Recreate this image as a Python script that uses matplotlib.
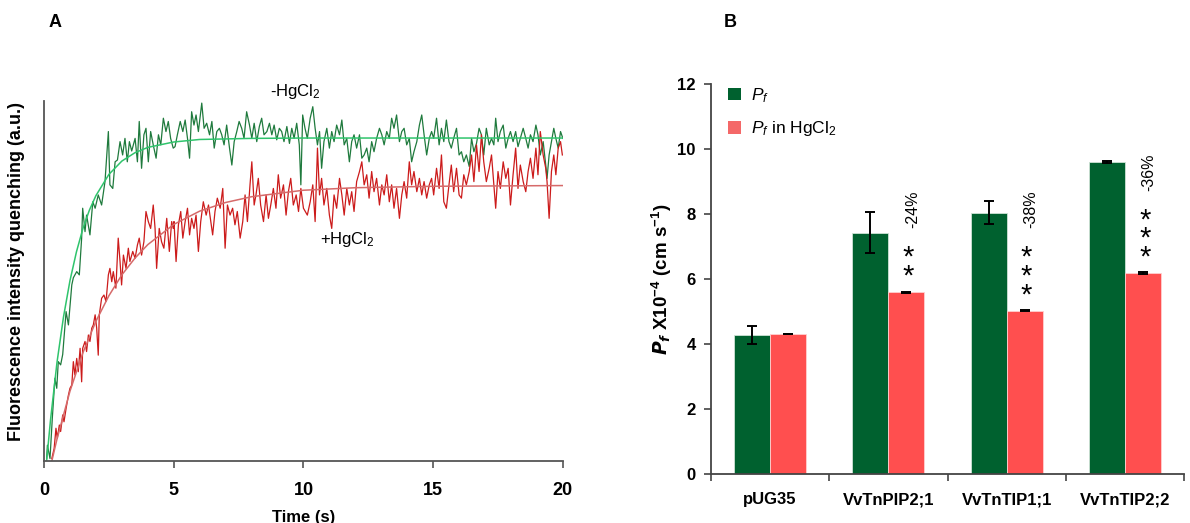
import matplotlib
matplotlib.use("Agg")
import matplotlib.pyplot as plt
from matplotlib.patches import Patch
import numpy as np

plt.rcParams['font.family'] = ['Liberation Sans', 'DejaVu Sans']
plt.rcParams['mathtext.fontset'] = 'custom'
plt.rcParams['mathtext.rm'] = 'Liberation Sans'
plt.rcParams['mathtext.it'] = 'Liberation Sans:italic'
plt.rcParams['mathtext.bf'] = 'Liberation Sans:bold'

# ---- panel A: stopped-flow traces (a.u., 0-100) ----
green_t = [
    0.10, 0.13, 0.23, 0.32, 0.42, 0.49, 0.55, 0.64, 0.72, 0.85, 0.94, 1.07, 1.13, 1.26, 1.36,
    1.45, 1.49, 1.58, 1.64, 1.77, 1.88, 1.97, 2.09, 2.22, 2.35, 2.48, 2.54, 2.65, 2.74, 2.83,
    2.93, 3.03, 3.12, 3.21, 3.29, 3.38, 3.51, 3.60, 3.67, 3.76, 3.85, 3.93, 4.02, 4.11, 4.21,
    4.32, 4.41, 4.50, 4.60, 4.70, 4.79, 4.88, 4.98,
    5.05, 5.14, 5.25, 5.35, 5.44, 5.53, 5.61, 5.69, 5.78, 5.86, 5.95, 6.08, 6.17, 6.27, 6.38,
    6.47, 6.56, 6.66, 6.76, 6.85, 6.94, 7.04, 7.15, 7.24, 7.33, 7.43, 7.52, 7.62, 7.71, 7.81,
    7.92, 8.01, 8.10, 8.20, 8.30, 8.39, 8.48, 8.59, 8.69, 8.78, 8.87, 8.97, 9.07, 9.16, 9.25,
    9.36, 9.46, 9.55, 9.64, 9.74, 9.84, 9.90, 9.97, 10.06,
    10.15, 10.26, 10.36, 10.45, 10.54, 10.62, 10.70, 10.79, 10.90, 11.00, 11.09, 11.18, 11.28, 11.39, 11.48,
    11.57, 11.67, 11.77, 11.86, 11.95, 12.05, 12.16, 12.25, 12.34, 12.44, 12.53, 12.63, 12.72, 12.82, 12.93,
    13.02, 13.11, 13.21, 13.31, 13.40, 13.49, 13.59, 13.70, 13.79, 13.88, 13.98, 14.08, 14.17, 14.26, 14.37,
    14.47, 14.56, 14.65, 14.75, 14.85, 14.94,
    15.02, 15.13, 15.23, 15.32, 15.41, 15.51, 15.61, 15.70, 15.79, 15.90, 16.00, 16.09, 16.18, 16.28, 16.39,
    16.48, 16.57, 16.67, 16.77, 16.86, 16.95, 17.05, 17.16, 17.25, 17.34, 17.41, 17.50, 17.59, 17.70, 17.80,
    17.89, 17.98, 18.08, 18.18, 18.27, 18.36, 18.47, 18.57, 18.66, 18.75, 18.85, 18.96, 19.04, 19.13, 19.24,
    19.34, 19.39, 19.47, 19.56, 19.65, 19.73, 19.82, 19.91, 20.00,
]
green_v = [
    0.7, 4.4, 0.7, 12.0, 23.0, 20.2, 27.6, 26.7, 29.6, 41.5, 37.8, 48.9, 50.9, 52.6, 51.7,
    61.9, 70.2, 63.7, 68.3, 62.8, 72.0, 70.2, 73.9, 71.1, 77.6, 91.5, 76.7, 75.7, 83.1, 83.6,
    88.7, 85.0, 89.6, 83.1, 88.7, 86.1, 89.6, 83.1, 94.3, 81.3, 90.6, 92.4, 83.1, 91.5, 87.8,
    84.1, 90.6, 87.8, 95.2, 91.5, 94.3, 89.6, 86.9,
    87.3, 90.6, 94.3, 91.5, 94.7, 89.6, 84.1, 97.0, 93.3, 96.1, 91.5, 99.4, 92.4, 93.8, 90.6,
    94.3, 86.9, 91.5, 92.4, 90.6, 87.8, 93.3, 86.9, 82.2, 88.7, 91.5, 94.3, 92.4, 89.6, 97.0,
    93.3, 89.6, 93.8, 88.7, 92.9, 95.2, 90.6, 91.5, 93.8, 90.6, 93.3, 89.2, 92.4, 91.5, 88.7,
    92.9, 88.2, 92.4, 89.6, 93.8, 87.8, 76.7, 96.1, 92.4,
    89.6, 95.2, 98.4, 92.4, 87.8, 91.5, 81.3, 88.7, 92.4, 86.9, 91.5, 88.7, 93.3, 90.6, 94.7,
    87.8, 89.6, 83.1, 88.7, 90.6, 86.9, 90.6, 84.1, 85.0, 86.9, 83.1, 88.7, 85.9, 89.6, 92.4,
    90.6, 87.8, 91.5, 89.6, 95.2, 92.4, 96.1, 88.7, 91.5, 92.4, 87.8, 89.6, 83.1, 85.9, 88.7,
    93.3, 96.1, 90.6, 85.0, 89.6, 91.5,
    89.6, 95.2, 87.8, 92.4, 88.7, 94.7, 88.7, 86.9, 89.6, 92.4, 85.0, 85.9, 83.1, 85.0, 81.8,
    89.6, 85.9, 88.2, 92.4, 90.6, 85.0, 92.4, 87.8, 89.6, 87.8, 95.2, 88.7, 91.5, 93.3, 86.9,
    89.6, 91.5, 88.7, 91.5, 87.3, 89.6, 92.4, 89.6, 86.9, 90.6, 88.7, 93.3, 90.6, 85.0, 88.7,
    82.2, 78.5, 85.0, 88.7, 92.4, 89.6, 86.9, 91.5, 89.6,
]
red_t = [
    0.30, 0.39, 0.46, 0.51, 0.59, 0.64, 0.72, 0.77, 0.85, 0.94, 1.00, 1.07, 1.13, 1.19, 1.26,
    1.32, 1.39, 1.45, 1.49, 1.58, 1.64, 1.71, 1.77, 1.84, 1.90, 1.97, 2.03, 2.09, 2.13, 2.22,
    2.31, 2.39, 2.48, 2.54, 2.61, 2.67, 2.77, 2.86, 2.93, 2.99, 3.06, 3.16, 3.25, 3.31, 3.42,
    3.51, 3.60, 3.67, 3.76, 3.85, 3.93, 4.02, 4.11, 4.21, 4.28, 4.34, 4.44, 4.53, 4.62, 4.73,
    4.83, 4.92, 4.98,
    5.01, 5.09, 5.18, 5.27, 5.35, 5.44, 5.53, 5.61, 5.69, 5.78, 5.86, 5.95, 6.04, 6.14, 6.25,
    6.34, 6.43, 6.50, 6.59, 6.68, 6.79, 6.89, 6.98, 7.07, 7.17, 7.27, 7.36, 7.45, 7.56, 7.66,
    7.75, 7.84, 7.94, 8.01, 8.10, 8.17, 8.26, 8.35, 8.46, 8.56, 8.65, 8.74, 8.84, 8.94, 9.03,
    9.12, 9.23, 9.33, 9.42, 9.51, 9.61, 9.72, 9.81, 9.90, 10.00,
    10.15, 10.26, 10.36, 10.45, 10.54, 10.62, 10.70, 10.79, 10.90, 11.00, 11.09, 11.18, 11.28, 11.39, 11.48,
    11.57, 11.67, 11.77, 11.86, 11.95, 12.05, 12.16, 12.25, 12.34, 12.44, 12.53, 12.63, 12.72, 12.82, 12.93,
    13.02, 13.11, 13.21, 13.31, 13.40, 13.49, 13.59, 13.70, 13.79, 13.88, 13.98, 14.08, 14.17, 14.26, 14.37,
    14.47, 14.56, 14.65, 14.75, 14.85, 14.94,
    15.02, 15.13, 15.23, 15.32, 15.41, 15.51, 15.61, 15.70, 15.79, 15.90, 16.00, 16.09, 16.18, 16.28, 16.39,
    16.48, 16.57, 16.67, 16.77, 16.86, 16.95, 17.05, 17.16, 17.25, 17.34, 17.41, 17.50, 17.59, 17.70, 17.80,
    17.89, 17.98, 18.08, 18.18, 18.27, 18.36, 18.47, 18.57, 18.66, 18.75, 18.85, 18.96, 19.04, 19.13, 19.24,
    19.34, 19.39, 19.47, 19.56, 19.65, 19.73, 19.82, 19.91, 19.98,
]
red_v = [
    0.7, 3.5, 9.1, 6.3, 10.0, 8.2, 12.8, 10.9, 14.6, 18.3, 20.2, 21.1, 27.6, 23.9, 28.5,
    24.8, 31.3, 22.0, 31.3, 33.2, 30.4, 35.0, 33.2, 36.9, 37.8, 40.6, 36.9, 29.4, 40.6, 45.2,
    46.1, 44.3, 51.7, 53.5, 49.8, 52.6, 48.0, 61.9, 55.4, 48.9, 57.2, 53.5, 59.1, 55.4, 58.2,
    56.3, 60.0, 61.9, 57.2, 60.9, 69.3, 66.5, 64.6, 71.1, 64.6, 53.5, 64.6, 60.9, 59.1, 67.4,
    58.2, 66.5, 64.6,
    66.5, 55.4, 65.6, 69.3, 61.9, 66.5, 70.2, 62.8, 67.4, 64.6, 68.3, 58.2, 66.5, 72.0, 68.3,
    71.1, 66.5, 62.8, 69.3, 73.0, 70.2, 75.7, 59.1, 71.1, 68.3, 70.2, 65.6, 69.3, 61.9, 66.5,
    73.9, 66.5, 76.7, 83.1, 71.1, 73.9, 78.5, 71.1, 66.5, 73.9, 67.4, 71.1, 75.7, 70.2, 79.5,
    73.0, 76.7, 68.3, 74.8, 78.5, 71.1, 73.9, 69.3, 75.7, 70.2,
    68.3, 72.0, 76.7, 66.5, 86.9, 73.9, 78.5, 71.1, 75.7, 68.3, 64.6, 73.9, 70.2, 78.5, 73.9,
    68.3, 75.7, 71.1, 74.8, 69.3, 77.6, 80.4, 83.1, 76.7, 79.5, 73.0, 80.4, 74.8, 78.5, 71.1,
    76.7, 73.9, 79.5, 72.0, 76.7, 70.2, 75.7, 67.4, 73.9, 77.6, 73.0, 83.1, 76.7, 80.4, 74.8,
    78.5, 73.9, 77.6, 73.0, 76.7, 78.5,
    73.9, 81.3, 75.7, 85.0, 72.0, 70.2, 76.7, 82.2, 74.8, 81.3, 73.9, 73.0, 79.5, 76.7, 80.4,
    85.0, 77.6, 87.8, 80.4, 90.6, 83.1, 77.6, 81.3, 85.0, 76.7, 70.2, 80.4, 75.7, 83.1, 78.5,
    81.3, 71.1, 79.5, 86.9, 75.7, 82.2, 77.6, 74.8, 80.4, 84.1, 78.5, 86.9, 79.5, 91.5, 85.0,
    81.3, 77.6, 67.4, 80.4, 85.0, 79.5, 86.9, 88.7, 85.0,
]
# fitted curves
gfit_t = [0.1, 0.25, 0.5, 0.75, 1.0, 1.25, 1.5, 1.75, 2.0, 2.5, 3.0, 3.5, 4.0, 5.0, 6.0, 8.0, 10.0, 15.0, 20.0]
gfit_v = [0.0, 11.4, 27.4, 40.0, 50.1, 58.1, 64.6, 69.7, 73.7, 79.6, 83.3, 85.6, 87.1, 88.6, 89.3, 89.6, 89.7, 89.7, 89.7]
rfit_t = [0.3, 0.5, 1.0, 1.5, 2.0, 2.5, 3.0, 3.5, 4.0, 5.0, 6.0, 7.0, 8.0, 10.0, 12.0, 15.0, 20.0]
rfit_v = [0.0, 6.1, 19.4, 30.1, 38.8, 45.9, 51.7, 56.3, 60.1, 65.7, 69.4, 71.8, 73.4, 75.2, 75.9, 76.3, 76.5]

# ---- panel B: osmotic water permeability ----
strains = ['pUG35', 'VvTnPIP2;1', 'VvTnTIP1;1', 'VvTnTIP2;2']
pf = [4.28, 7.42, 8.04, 9.61]
pf_err = [0.28, 0.63, 0.35, 0.03]
pf_hg = [4.31, 5.59, 5.02, 6.18]
pf_hg_err = [0.01, 0.02, 0.02, 0.02]
n_stars = [0, 2, 3, 3]
change = ['', '-24%', '-38%', '-36%']

fig = plt.figure(figsize=(11.9, 5.23), dpi=100)

axA = fig.add_axes([0.037, 0.1185, 0.436, 0.6885])
axA.plot(green_t, green_v, color='#1f7a3d', lw=0.9)
axA.plot(red_t, red_v, color='#cc1b1b', lw=0.9)
axA.plot(gfit_t, gfit_v, color='#2fc46c', lw=1.1)
axA.plot(rfit_t, rfit_v, color='#d66a6a', lw=1.1)
axA.set_xlim(0, 20)
axA.set_ylim(0, 100)
for s in ['top', 'right']:
    axA.spines[s].set_visible(False)
for s in ['left', 'bottom']:
    axA.spines[s].set_color('#555555')
    axA.spines[s].set_linewidth(1.3)
axA.set_yticks([])
axA.set_xticks([0, 5, 10, 15, 20])
axA.tick_params(axis='x', direction='out', length=5, width=1.2, color='#555555', pad=10, labelsize=13)
for lab in axA.get_xticklabels():
    lab.set_fontweight('bold')
axA.set_xlabel('Time (s)', fontweight='bold', fontsize=12, labelpad=8)
axA.set_ylabel('Fluorescence intensity quenching (a.u.)', fontweight='bold', fontsize=13)
axA.yaxis.set_label_coords(-0.036, 0.525)
axA.text(9.67, 102.5, '-HgCl$_{\\mathdefault{2}}$', ha='center', va='center', fontsize=12, clip_on=False)
axA.text(11.68, 61.4, '+HgCl$_{\\mathdefault{2}}$', ha='center', va='center', fontsize=12)

axB = fig.add_axes([0.5975, 0.0937, 0.3975, 0.7457])
x = np.arange(len(strains))
w = 0.304
ekw = dict(lw=1.4, capsize=3.4, capthick=1.4, ecolor='black')
axB.bar(x - w / 2, pf, w, yerr=pf_err, color='#00612f', edgecolor='#cfe3d6', lw=0.6,
        error_kw=ekw, zorder=2)
axB.bar(x + w / 2, pf_hg, w, yerr=pf_hg_err, color='#ff4f4f', edgecolor='#ffd0d0', lw=0.6,
        error_kw=ekw, zorder=2)
for i in range(len(strains)):
    n = n_stars[i]
    if n == 0:
        continue
    # column of asterisks above the HgCl2 bar, then the relative change
    mid = pf_hg[i] + 0.49 + (n - 1) * 0.28
    axB.text(x[i] + w / 2 + 0.015, mid, '\n'.join(['*'] * n), ha='center', va='center',
             fontsize=21, linespacing=0.58)
    top = pf_hg[i] + 0.7 + (n - 1) * 0.56
    axB.text(x[i] + w / 2 + 0.05, top + 0.72, change[i], rotation=90,
             ha='center', va='bottom', fontsize=11.5)

axB.set_xlim(-0.5, 3.5)
axB.set_ylim(0, 12)
for s in ['top', 'right']:
    axB.spines[s].set_visible(False)
for s in ['left', 'bottom']:
    axB.spines[s].set_color('#444444')
    axB.spines[s].set_linewidth(1.3)
axB.set_yticks(range(0, 13, 2))
axB.tick_params(axis='y', direction='out', length=5, width=1.2, color='#444444', pad=6, labelsize=12)
axB.set_xticks(x)
axB.set_xticklabels(strains)
axB.set_xticks(np.arange(-0.5, 4.0, 1.0), minor=True)
axB.tick_params(axis='x', which='major', length=0, pad=13, labelsize=12)
axB.tick_params(axis='x', which='minor', direction='out', length=5, width=1.2, color='#444444')
for lab in axB.get_xticklabels() + axB.get_yticklabels():
    lab.set_fontweight('bold')
axB.set_ylabel(r'$\mathbfit{P}_{\mathbfit{f}}$ X10$^{\mathdefault{-4}}$ (cm s$^{\mathdefault{-1}}$)',
               fontweight='bold', fontsize=13.5, labelpad=2)

handles = [Patch(facecolor='#00612f', edgecolor='none'), Patch(facecolor='#f46868', edgecolor='none')]
labels = [r'$\mathit{P}_{\mathit{f}}$', r'$\mathit{P}_{\mathit{f}}$ in HgCl$_{\mathdefault{2}}$']
axB.legend(handles, labels, loc='upper left', bbox_to_anchor=(0.036, 0.995), frameon=False,
           borderaxespad=0, borderpad=0, handlelength=0.75, handleheight=0.75,
           handletextpad=0.6, labelspacing=0.85, fontsize=12.5)

fig.text(0.046, 0.957, 'A', fontweight='bold', fontsize=13, ha='center', va='center')
fig.text(0.614, 0.957, 'B', fontweight='bold', fontsize=13, ha='center', va='center')

fig.savefig('out.png', dpi=100)
